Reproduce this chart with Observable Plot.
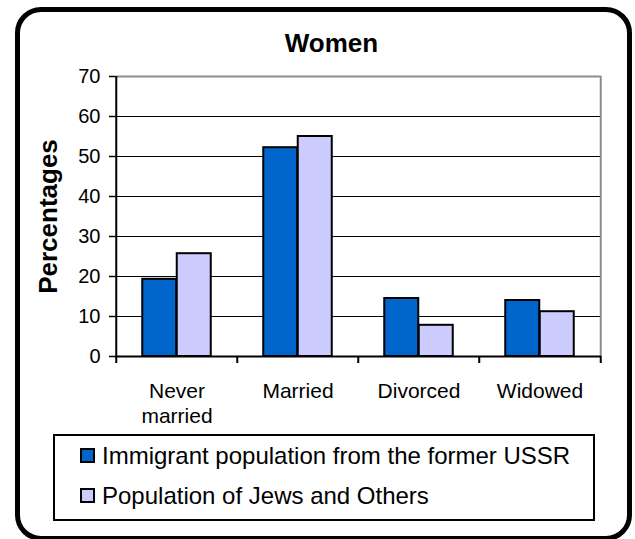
<!DOCTYPE html>
<html><head><meta charset="utf-8">
<script src="https://cdn.jsdelivr.net/npm/d3@7"></script>
<script src="https://cdn.jsdelivr.net/npm/@observablehq/plot@0.6"></script>
<style>
html,body{margin:0;padding:0;background:#fff;}
body{font-family:Arial,"Liberation Sans",sans-serif;color:#000;}
#wrap{position:relative;width:635px;height:539px;overflow:hidden;background:#fff;}
#border{position:absolute;left:15px;top:7px;width:617px;height:534px;border:5px solid #000;border-radius:26px;box-sizing:border-box;}
#title{position:absolute;left:0;top:30px;width:663px;text-align:center;font-size:26px;line-height:26px;font-weight:bold;}
#chart{position:absolute;left:0;top:60px;}
#legend{position:absolute;left:53px;top:434px;width:542px;height:87px;border:2px solid #000;box-sizing:border-box;}
.row{position:absolute;left:0;height:24px;font-size:24px;line-height:24px;white-space:nowrap;}
.sw{position:absolute;width:15px;height:15px;border:2px solid #000;box-sizing:border-box;}
.lt{position:absolute;}
</style>
</head><body>
<div id="wrap">
  <div id="border"></div>
  <div id="title">Women</div>
  <div id="chart"></div>
  <div id="legend"></div>
</div>
<script>
const categories = ["Never married", "Married", "Divorced", "Widowed"];
const seriesNames = ["Immigrant population from the former USSR", "Population of Jews and Others"];
const ussrValues = [19.3, 52.2, 14.5, 14.0];
const jewsValues = [25.7, 55.0, 7.8, 11.2];
const yTicks = [0, 10, 20, 30, 40, 50, 60, 70];
const seriesColors = ["#0066CC", "#CCCCFF"];
const yLabel = "Percentages";

const W = 635, H = 370, ML = 115, MR = 34, MT = 16, MB = 74;
const bw = (W - ML - MR) / categories.length;
const outer = 26.25;
const barW = (bw - 2 * outer) / 2;

const rows = categories.flatMap((c, i) => [
  {category: c, series: seriesNames[0], value: ussrValues[i]},
  {category: c, series: seriesNames[1], value: jewsValues[i]}
]);
const last = categories[categories.length - 1];

const chart = Plot.plot({
  width: W, height: H,
  marginLeft: ML, marginRight: MR, marginTop: MT, marginBottom: MB,
  x: {domain: categories, padding: 0, axis: null},
  y: {domain: [yTicks[0], yTicks[yTicks.length - 1]], axis: null},
  color: {domain: seriesNames, range: seriesColors},
  style: {fontFamily: "Arial, 'Liberation Sans', sans-serif", background: "transparent", color: "#000", overflow: "visible"},
  marks: [
    Plot.gridY(yTicks.filter(v => v > 0 && v < 70), {stroke: "#000", strokeOpacity: 1, strokeWidth: 1}),
    Plot.ruleY([70], {stroke: "#8c8c8c", strokeWidth: 2}),
    Plot.ruleX([last], {dx: bw / 2, y1: 70, y2: 0, stroke: "#8c8c8c", strokeWidth: 2}),
    Plot.barY(rows.filter(d => d.series === seriesNames[0]), {x: "category", y: "value", fill: "series", stroke: "#000", strokeWidth: 2, insetLeft: outer, insetRight: outer + barW}),
    Plot.barY(rows.filter(d => d.series === seriesNames[1]), {x: "category", y: "value", fill: "series", stroke: "#000", strokeWidth: 2, insetLeft: outer + barW, insetRight: outer}),
    Plot.ruleY([0], {stroke: "#000", strokeWidth: 2}),
    Plot.ruleX([categories[0]], {dx: -bw / 2, y1: 70, y2: 0, stroke: "#000", strokeWidth: 2}),
    Plot.ruleX(categories, {x: d => d, dx: -bw / 2, y1: 0, y2: 0, insetBottom: -7, stroke: "#000", strokeWidth: 2}),
    Plot.ruleX([last], {dx: bw / 2, y1: 0, y2: 0, insetBottom: -7, stroke: "#000", strokeWidth: 2}),
    Plot.axisY({ticks: yTicks, tickSize: 6, tickPadding: 9, fontSize: 20, label: null, strokeWidth: 1.5}),
    Plot.text(categories, {x: d => d, frameAnchor: "bottom", lineAnchor: "top", dy: 23, text: d => d.replace(" ", "\n"), fontSize: 21, lineHeight: 1.22, fill: "#000"}),
    Plot.text([yLabel], {frameAnchor: "left", dx: -67, rotate: -90, text: d => d, fontSize: 26, fontWeight: "bold", textAnchor: "middle", lineAnchor: "middle", fill: "#000"})
  ]
});
document.getElementById("chart").appendChild(chart);

const legend = document.getElementById("legend");
seriesNames.forEach((name, i) => {
  const row = document.createElement("div");
  row.className = "row";
  row.style.top = (i === 0 ? 8 : 48) + "px";
  row.style.width = "530px";
  const sw = document.createElement("div");
  sw.className = "sw";
  sw.style.left = "25px";
  sw.style.top = "4px";
  sw.style.background = seriesColors[i];
  const t = document.createElement("div");
  t.className = "lt";
  t.style.left = "47px";
  t.style.top = "0px";
  t.textContent = name;
  row.appendChild(sw);
  row.appendChild(t);
  legend.appendChild(row);
});
</script>
</body></html>
